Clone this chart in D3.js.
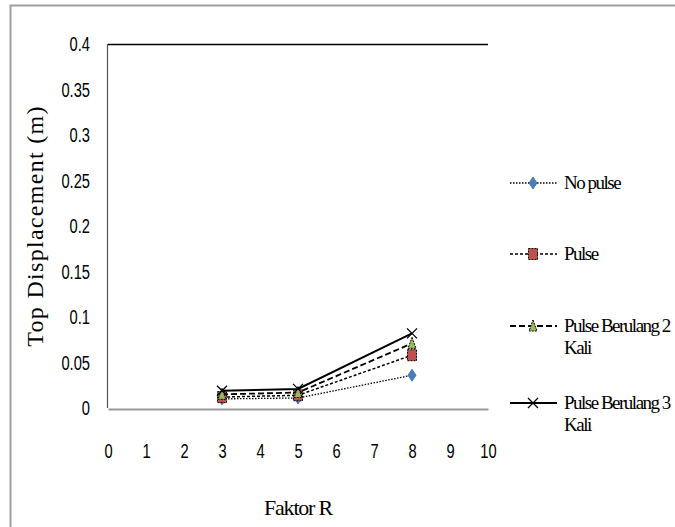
<!DOCTYPE html>
<html><head><meta charset="utf-8">
<script src="https://cdn.jsdelivr.net/npm/d3@7"></script>
<style>body{margin:0;background:#fff;overflow:hidden}svg{display:block}</style>
</head><body>
<svg id="c" width="675" height="527"></svg>
<script>
const xValues = [3, 5, 8];
const noPulse = [0.010, 0.011, 0.036];
const pulse = [0.012, 0.014, 0.058];
const pulse2 = [0.015, 0.017, 0.071];
const pulse3 = [0.019, 0.021, 0.082];
const seriesNames = ["No pulse", "Pulse", "Pulse Berulang 2 Kali", "Pulse Berulang 3 Kali"];
const xTicks = [0,1,2,3,4,5,6,7,8,9,10];
const yTicks = [0,0.05,0.1,0.15,0.2,0.25,0.3,0.35,0.4];

const svg = d3.select("#c");
svg.append("path").attr("d","M10.5,527V5.5H675").attr("fill","none")
  .attr("stroke","#a0a0a0").attr("stroke-width",2);

const x = d3.scaleLinear().domain([0,10]).range([108,488]);
const y = d3.scaleLinear().domain([0,0.4]).range([408,44]);
const tickFont = "'Liberation Sans','Arial',sans-serif";
const serif = "'Liberation Serif','Times New Roman',serif";

// plot frame
svg.append("line").attr("x1",108).attr("x2",488).attr("y1",44.5).attr("y2",44.5).attr("stroke","#000").attr("stroke-width",1.3);
svg.append("line").attr("x1",107.5).attr("x2",107.5).attr("y1",44).attr("y2",408).attr("stroke","#555").attr("stroke-width",1.2);

// axes
const xa = svg.append("g").attr("transform","translate(0,409)")
  .call(d3.axisBottom(x).tickValues(xTicks).tickSize(0).tickPadding(34).tickFormat(d3.format("d")));
xa.select(".domain").attr("stroke","#999").attr("stroke-width",2);
xa.selectAll("text").attr("font-family",tickFont).attr("font-size",21).attr("fill","#000").attr("transform","scale(0.7,1)");

const ya = svg.append("g").attr("transform","translate(90,0)")
  .call(d3.axisLeft(y).tickValues(yTicks).tickSize(0).tickPadding(0).tickFormat(d=>String(+d.toFixed(2))));
ya.select(".domain").remove();
ya.selectAll("text").attr("font-family",tickFont).attr("font-size",21).attr("fill","#000").attr("transform","scale(0.7,1)");

svg.append("text").attr("transform","translate(43,226) rotate(-90)").attr("text-anchor","middle")
  .attr("font-family",serif).attr("font-size",24).attr("letter-spacing","1.3").text("Top Displacement  (m)");
svg.append("text").attr("x",298).attr("y",515).attr("text-anchor","middle")
  .attr("font-family",serif).attr("font-size",22).attr("letter-spacing","-1.2").text("Faktor R");

const series = [
  {name:seriesNames[0], vals:noPulse, dash:"1.5,1.5", w:1.3, marker:"diamond", fill:"#4a7ebb"},
  {name:seriesNames[1], vals:pulse, dash:"3,2", w:1.5, marker:"square", fill:"#c0504d"},
  {name:seriesNames[2], vals:pulse2, dash:"6,3", w:1.8, marker:"triangle", fill:"#9bbb59"},
  {name:seriesNames[3], vals:pulse3, dash:null, w:2, marker:"x", fill:"none"}
];

function drawMarker(g, type, fill, cx, cy){
  if(type==="diamond"){
    g.append("path").attr("d",`M${cx},${cy-6}L${cx+4},${cy}L${cx},${cy+6}L${cx-4},${cy}Z`).attr("fill",fill).attr("stroke","#3a6aa8").attr("stroke-width",0.8);
  } else if(type==="square"){
    g.append("rect").attr("x",cx-4.5).attr("y",cy-5.5).attr("width",9).attr("height",11).attr("fill",fill).attr("stroke","#000").attr("stroke-width",1).attr("stroke-dasharray","2,1");
  } else if(type==="triangle"){
    g.append("path").attr("d",`M${cx},${cy-6}L${cx+4},${cy+5}L${cx-4},${cy+5}Z`).attr("fill",fill).attr("stroke","#000").attr("stroke-width",1).attr("stroke-dasharray","2,1");
  } else {
    g.append("path").attr("d",`M${cx-5},${cy-5}L${cx+5},${cy+5}M${cx+5},${cy-5}L${cx-5},${cy+5}`).attr("stroke","#000").attr("stroke-width",1.3);
  }
}

const line = d3.line().x(d=>x(d[0])).y(d=>y(d[1]));
series.forEach(s=>{
  const pts = xValues.map((v,i)=>[v,s.vals[i]]);
  svg.append("path").attr("d",line(pts)).attr("fill","none").attr("stroke","#000")
    .attr("stroke-width",s.w).attr("stroke-dasharray",s.dash);
});
series.forEach(s=>{
  const g = svg.append("g");
  xValues.forEach((v,i)=>drawMarker(g,s.marker,s.fill,x(v),y(s.vals[i])));
});

// legend
const legY = [183, 254, 326, 403];
series.forEach((s,i)=>{
  const ly = legY[i];
  svg.append("line").attr("x1",510).attr("x2",557).attr("y1",ly).attr("y2",ly).attr("stroke","#000")
    .attr("stroke-width",s.w).attr("stroke-dasharray",s.dash);
  drawMarker(svg.append("g"),s.marker,s.fill,533,ly);
  const words = s.name.split(" ");
  const t = svg.append("text").attr("font-family",serif).attr("font-size",19).attr("letter-spacing","-1.5").attr("fill","#000");
  if(words.length>2){
    t.append("tspan").attr("x",564).attr("y",ly+6).text(words.slice(0,3).join(" "));
    t.append("tspan").attr("x",564).attr("y",ly+28).text(words.slice(3).join(" "));
  } else {
    t.append("tspan").attr("x",564).attr("y",ly+6).text(s.name);
  }
});
</script>
</body></html>
